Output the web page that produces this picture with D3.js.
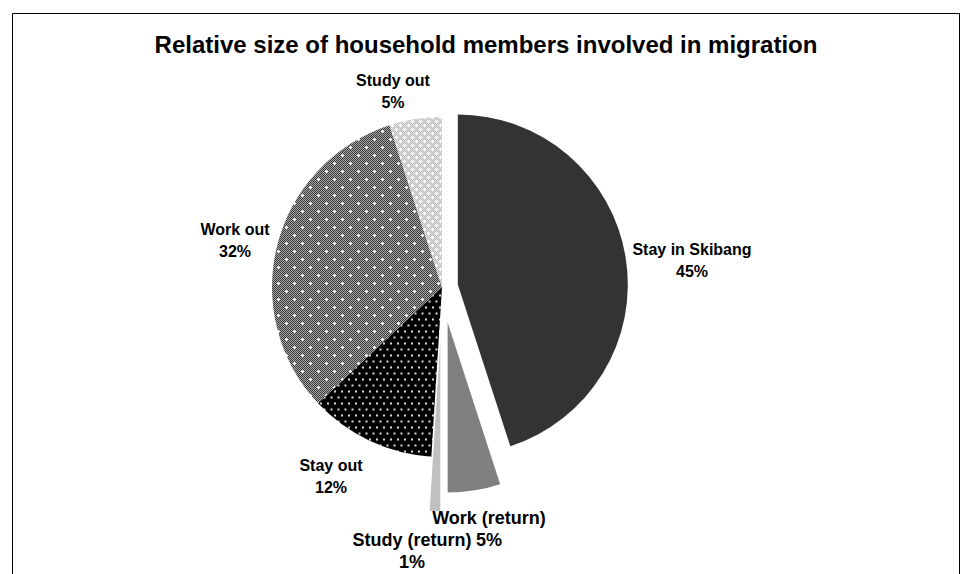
<!DOCTYPE html>
<html>
<head>
<meta charset="utf-8">
<script src="https://cdn.jsdelivr.net/npm/d3@7"></script>
<style>
  html, body { margin: 0; padding: 0; background: #fff; }
  svg { display: block; }
  text { font-family: "Liberation Sans", Arial, sans-serif; font-weight: bold; fill: #000; }
</style>
</head>
<body>
<svg id="chart" width="973" height="574"></svg>
<script>
// Shares of household members, clockwise from 12 o'clock
const categories = ["Stay in Skibang", "Work (return)", "Study (return)", "Stay out", "Work out", "Study out"];
const shares = [45, 5, 1, 12, 32, 5];
const shareLabels = ["45%", "5%", "1%", "12%", "32%", "5%"];
const title = "Relative size of household members involved in migration";

// How far each slice is pulled out from the centre (px)
const sliceOffset = [16, 36, 54, 0, 0, 0];
// Fill for each slice (solid tone or pattern id)
const sliceFill = ["#333333", "#808080", "#c0c0c0", "url(#dotsOnBlack)", "url(#plusOnChecker)", "url(#lightLattice)"];
// Label anchors: centre x and baseline of the first line; font size
const labelPos = [[692, 255], [489, 524], [412, 546], [331, 471], [235, 235], [393, 86]];
const labelSize = [16, 18, 18, 16, 16, 16];

const svg = d3.select("#chart");
const W = 973, H = 574;

// Outer frame
svg.append("path")
  .attr("d", `M12.5,${H} V13.5 H959.5 V${H}`)
  .attr("fill", "none").attr("stroke", "#000").attr("stroke-width", 1);

// Patterns
const defs = svg.append("defs");

// black ground with small light dots
const p1 = defs.append("pattern").attr("id", "dotsOnBlack")
  .attr("patternUnits", "userSpaceOnUse").attr("width", 7).attr("height", 12);
p1.append("rect").attr("width", 7).attr("height", 12).attr("fill", "#000");
[[1.5, 2.5], [5, 8.5]].forEach(([x, y]) =>
  p1.append("rect").attr("x", x - 1).attr("y", y - 1).attr("width", 2).attr("height", 2).attr("fill", "#d8d8d8"));

// fine checker with white plus marks
const p2 = defs.append("pattern").attr("id", "plusOnChecker")
  .attr("patternUnits", "userSpaceOnUse").attr("width", 16).attr("height", 16);
p2.append("rect").attr("width", 16).attr("height", 16).attr("fill", "#3a3a3a");
for (let y = 0; y < 16; y++) for (let x = 0; x < 16; x++) {
  if ((x + y) % 2 === 0) p2.append("rect").attr("x", x).attr("y", y).attr("width", 1).attr("height", 1).attr("fill", "#a8a8a8");
}
[[4, 4], [12, 12]].forEach(([x, y]) => {
  p2.append("rect").attr("x", x - 1).attr("y", y).attr("width", 3).attr("height", 1).attr("fill", "#fff");
  p2.append("rect").attr("x", x).attr("y", y - 1).attr("width", 1).attr("height", 3).attr("fill", "#fff");
});

// light lattice
const p3 = defs.append("pattern").attr("id", "lightLattice")
  .attr("patternUnits", "userSpaceOnUse").attr("width", 8).attr("height", 8);
p3.append("rect").attr("width", 8).attr("height", 8).attr("fill", "#b8b8b8");
for (let y = 0; y < 8; y++) for (let x = 0; x < 8; x++) {
  if ((x + y) % 2 === 0) p3.append("rect").attr("x", x).attr("y", y).attr("width", 1).attr("height", 1).attr("fill", "#e6e6e6");
}
[[2, 2], [6, 6]].forEach(([x, y]) => {
  p3.append("rect").attr("x", x - 1).attr("y", y).attr("width", 3).attr("height", 1).attr("fill", "#fff");
  p3.append("rect").attr("x", x).attr("y", y - 1).attr("width", 1).attr("height", 3).attr("fill", "#fff");
});

// Title
svg.append("text")
  .attr("x", 486).attr("y", 53)
  .attr("text-anchor", "middle")
  .style("font-size", "24px")
  .text(title);

// Pie
const cx = 442, cy = 287, radius = 170;
const data = categories.map((c, i) => ({ name: c, value: shares[i], i }));
const pie = d3.pie().value(d => d.value).sort(null).startAngle(0).endAngle(2 * Math.PI);
const arc = d3.arc().innerRadius(0).outerRadius(radius);

const g = svg.append("g").attr("transform", `translate(${cx},${cy})`);
g.selectAll("path.slice")
  .data(pie(data))
  .join("path")
  .attr("class", "slice")
  .attr("transform", d => {
    const mid = (d.startAngle + d.endAngle) / 2;
    const off = sliceOffset[d.data.i];
    return `translate(${off * Math.sin(mid)},${-off * Math.cos(mid)})`;
  })
  .attr("d", arc)
  .attr("fill", d => sliceFill[d.data.i]);

// Labels: name on first line, share on second
const lab = svg.append("g").selectAll("text")
  .data(data)
  .join("text")
  .attr("text-anchor", "middle")
  .style("font-size", d => labelSize[d.i] + "px")
  .attr("x", d => labelPos[d.i][0])
  .attr("y", d => labelPos[d.i][1]);
lab.append("tspan").attr("x", d => labelPos[d.i][0]).text(d => d.name);
lab.append("tspan").attr("x", d => labelPos[d.i][0]).attr("dy", 22).text(d => shareLabels[d.i]);
</script>
</body>
</html>
